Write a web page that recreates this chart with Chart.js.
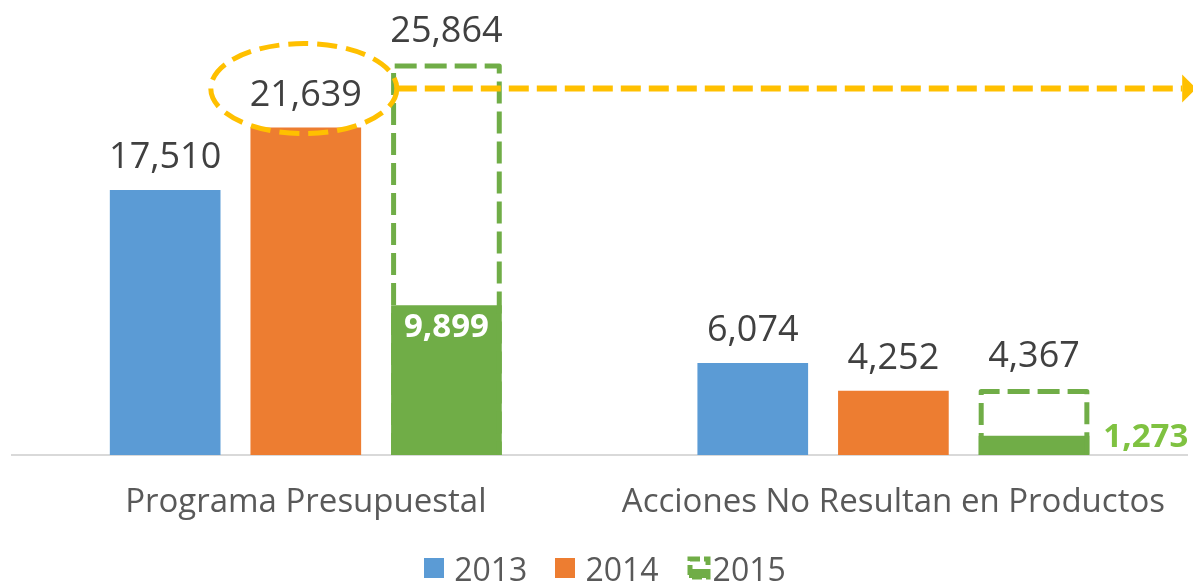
<!DOCTYPE html>
<html>
<head>
<meta charset="utf-8">
<style>
    html, body { margin: 0; padding: 0; background: #fff; }
    #chartWrap { position: relative; width: 1193px; height: 585px; }
    #legend {
        position: absolute;
        left: 0;
        top: 549px;
        width: 1210px;
        height: 38px;
        display: flex;
        justify-content: center;
        align-items: center;
        font-family: "Open Sans", sans-serif;
        font-size: 32px;
        color: #595959;
    }
    .legend-item { display: flex; align-items: center; margin: 0 14px; }
    .legend-box { width: 20px; height: 20px; margin-right: 10px; }
    .legend-item canvas { margin-right: 2px; }
</style>
<script src="https://cdn.jsdelivr.net/npm/chart.js@4"></script>
</head>
<body>
<div id="chartWrap">
    <canvas id="budgetChart" width="1193" height="585"></canvas>
    <div id="legend"></div>
</div>
<script>
const CATEGORIES = ['Programa Presupuestal', 'Acciones No Resultan en Productos'];
const SERIES_LABELS = ['2013', '2014', '2015'];
const VALUES_2013 = [17510, 6074];
const VALUES_2014 = [21639, 4252];
const VALUES_2015_TOTAL = [25864, 4367];   // dashed outline
const VALUES_2015_EXEC = [9899, 1273];     // filled part
const Y_MAX = 30000;

const COLORS = {
    blue: '#5b9bd5',
    orange: '#ed7d31',
    green: '#70ad47',
    greenText: '#7fc241',
    highlight: '#ffc000',
    label: '#404040',
    axisText: '#595959',
    axisLine: '#d9d9d9'
};
const FONT = '"Open Sans", sans-serif';

function formatNumber(value) {
    return new Intl.NumberFormat('en-US').format(value);
}

// small icon for the 2015 legend entry (dashed box, filled bottom)
function make2015Icon() {
    const c = document.createElement('canvas');
    c.width = 24;
    c.height = 24;
    const g = c.getContext('2d');
    g.fillStyle = COLORS.green;
    g.fillRect(2, 13, 20, 9);
    g.strokeStyle = COLORS.green;
    g.lineWidth = 5;
    g.setLineDash([10, 4]);
    g.strokeRect(3, 3, 18, 18);
    return c;
}

function buildLegend() {
    const legend = document.getElementById('legend');
    const colors = [COLORS.blue, COLORS.orange, null];
    SERIES_LABELS.forEach((label, i) => {
        const item = document.createElement('div');
        item.className = 'legend-item';
        let marker;
        if (colors[i]) {
            marker = document.createElement('div');
            marker.className = 'legend-box';
            marker.style.background = colors[i];
        } else {
            marker = make2015Icon();
        }
        item.appendChild(marker);
        const text = document.createElement('span');
        text.textContent = label;
        item.appendChild(text);
        legend.appendChild(item);
    });
}

// dashed left/top/right edges for the 2015 total
const dashedOutlinePlugin = {
    id: 'dashedOutline',
    afterDatasetsDraw(chart) {
        const ctx = chart.ctx;
        chart.data.datasets.forEach((ds, i) => {
            if (!ds.dashedOutline) return;
            chart.getDatasetMeta(i).data.forEach(bar => {
                const lw = 5;
                const left = bar.x - bar.width / 2 + lw / 2;
                const right = bar.x + bar.width / 2 - lw / 2;
                const top = bar.y + lw / 2;
                ctx.save();
                ctx.strokeStyle = ds.outlineColor;
                ctx.lineWidth = lw;
                ctx.lineJoin = 'round';
                ctx.setLineDash([22, 8]);
                ctx.beginPath();
                ctx.moveTo(left, bar.base);
                ctx.lineTo(left, top);
                ctx.lineTo(right, top);
                ctx.lineTo(right, bar.base);
                ctx.stroke();
                ctx.restore();
            });
        });
    }
};

const valueLabelsPlugin = {
    id: 'valueLabels',
    afterDatasetsDraw(chart) {
        const ctx = chart.ctx;
        chart.data.datasets.forEach((ds, i) => {
            chart.getDatasetMeta(i).data.forEach((bar, j) => {
                const text = formatNumber(ds.data[j]);
                ctx.save();
                if (ds.labelMode === 'above') {
                    ctx.font = `36px ${FONT}`;
                    ctx.fillStyle = COLORS.label;
                    ctx.textAlign = 'center';
                    ctx.textBaseline = 'alphabetic';
                    ctx.fillText(text, bar.x, bar.y - 22);
                } else if (ds.labelMode === 'inside') {
                    ctx.font = `bold 33px ${FONT}`;
                    ctx.textBaseline = 'middle';
                    if (bar.base - bar.y > 60) {
                        ctx.fillStyle = '#ffffff';
                        ctx.textAlign = 'center';
                        ctx.fillText(text, bar.x, bar.y + 22);
                    } else {
                        ctx.fillStyle = COLORS.greenText;
                        ctx.textAlign = 'left';
                        ctx.fillText(text, bar.x + bar.width / 2 + 14, bar.y + 2);
                    }
                }
                ctx.restore();
            });
        });
    }
};

// orange dashed ellipse round the 2014 label plus dashed arrow to the right
const highlightPlugin = {
    id: 'highlight',
    afterDatasetsDraw(chart) {
        const ctx = chart.ctx;
        const bar = chart.getDatasetMeta(1).data[0];
        if (!bar) return;
        const cx = bar.x - 2;
        const cy = bar.y - 39;
        const rx = 93;
        const ry = 45;
        const endX = chart.chartArea.right - 5;

        ctx.save();
        ctx.strokeStyle = COLORS.highlight;
        ctx.fillStyle = COLORS.highlight;
        ctx.lineWidth = 5;
        ctx.setLineDash([20, 9]);
        ctx.beginPath();
        ctx.ellipse(cx, cy, rx, ry, 0, 0, Math.PI * 2);
        ctx.stroke();

        ctx.lineWidth = 6;
        ctx.setLineDash([20, 8]);
        ctx.beginPath();
        ctx.moveTo(cx + rx, cy);
        ctx.lineTo(endX, cy);
        ctx.stroke();

        ctx.setLineDash([]);
        ctx.beginPath();
        ctx.moveTo(endX, cy - 14);
        ctx.lineTo(endX + 14, cy);
        ctx.lineTo(endX, cy + 14);
        ctx.closePath();
        ctx.fill();
        ctx.restore();
    }
};

function initChart() {
    const canvas = document.getElementById('budgetChart');
    const ctx = canvas.getContext('2d');

    new Chart(ctx, {
        type: 'bar',
        data: {
            labels: CATEGORIES,
            datasets: [
                { label: SERIES_LABELS[0], data: VALUES_2013, backgroundColor: COLORS.blue, stack: 's2013', labelMode: 'above' },
                { label: SERIES_LABELS[1], data: VALUES_2014, backgroundColor: COLORS.orange, stack: 's2014', labelMode: 'above' },
                { label: SERIES_LABELS[2], data: VALUES_2015_EXEC, backgroundColor: COLORS.green, stack: 's2015', labelMode: 'inside' },
                {
                    label: SERIES_LABELS[2],
                    data: VALUES_2015_TOTAL,
                    backgroundColor: 'rgba(0,0,0,0)',
                    stack: 's2015',
                    dashedOutline: true,
                    outlineColor: COLORS.green,
                    labelMode: 'above'
                }
            ]
        },
        options: {
            responsive: false,
            animation: false,
            datasets: {
                bar: { barPercentage: 0.787, categoryPercentage: 0.718, borderWidth: 0 }
            },
            layout: { padding: { top: 1, left: 12, right: 0, bottom: 64 } },
            plugins: {
                tooltip: { enabled: false },
                legend: { display: false }
            },
            scales: {
                x: {
                    grid: { display: false, drawTicks: false },
                    border: { display: true, color: COLORS.axisLine, width: 2 },
                    ticks: {
                        color: COLORS.axisText,
                        font: { family: FONT, size: 33 },
                        padding: 28,
                        maxRotation: 0,
                        autoSkip: false
                    },
                    afterFit: (scale) => { scale.height = 66; }
                },
                y: {
                    display: false,
                    stacked: false,
                    min: 0,
                    max: Y_MAX
                }
            }
        },
        plugins: [dashedOutlinePlugin, valueLabelsPlugin, highlightPlugin]
    });
}

document.addEventListener('DOMContentLoaded', () => {
    buildLegend();
    initChart();
});
</script>
</body>
</html>
